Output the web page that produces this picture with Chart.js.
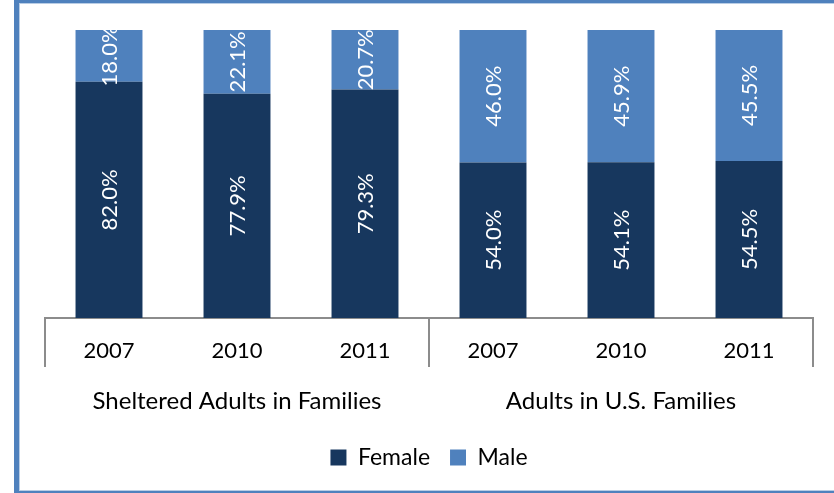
<!DOCTYPE html>
<html>
<head>
<meta charset="utf-8">
<script src="https://cdn.jsdelivr.net/npm/chart.js@4/dist/chart.umd.min.js"></script>
<style>
  html, body { margin: 0; padding: 0; background: #fff; }
  #wrap { position: relative; width: 834px; height: 493px; overflow: hidden; }
  #c { position: absolute; left: 0; top: 0; }
  #frame { position: absolute; left: 14px; top: 0; width: 900px; height: 493px;
    border-left: 5px solid #4F81BD; border-top: 3px solid #4F81BD; border-bottom: 2px solid #4F81BD;
    box-sizing: border-box; pointer-events: none; }
  #frame2 { position: absolute; left: 19px; top: 3px; width: 900px; height: 488px;
    border-left: 1px solid #B9CDE5; border-top: 1px solid #B9CDE5; border-bottom: 1px solid #B9CDE5;
    box-sizing: border-box; pointer-events: none; }
</style>
</head>
<body>
<div id="wrap">
  <canvas id="c" width="834" height="493"></canvas>
  <div id="frame"></div>
  <div id="frame2"></div>
</div>
<script>
const years = ['2007', '2010', '2011', '2007', '2010', '2011'];
const groups = ['Sheltered Adults in Families', 'Adults in U.S. Families'];
const female = [82.0, 77.9, 79.3, 54.0, 54.1, 54.5];
const male = [18.0, 22.1, 20.7, 46.0, 45.9, 45.5];
const seriesNames = ['Female', 'Male'];

const FONT = 'Lato, "Noto Sans", sans-serif';

const labelPlugin = {
  id: 'barLabels',
  afterDatasetsDraw(chart) {
    const ctx = chart.ctx;
    chart.data.datasets.forEach((ds, di) => {
      const meta = chart.getDatasetMeta(di);
      meta.data.forEach((bar, i) => {
        const v = ds.data[i];
        const yc = (bar.y + bar.base) / 2;
        ctx.save();
        ctx.translate(bar.x, yc);
        ctx.rotate(-Math.PI / 2);
        ctx.fillStyle = '#ffffff';
        ctx.font = '22px ' + FONT;
        ctx.textAlign = 'center';
        ctx.textBaseline = 'middle';
        ctx.fillText(v.toFixed(1) + '%', 0, 1);
        ctx.restore();
      });
    });
  }
};

new Chart(document.getElementById('c'), {
  type: 'bar',
  data: {
    labels: years,
    datasets: [
      { label: seriesNames[0], data: female, backgroundColor: '#17375E', borderWidth: 0 },
      { label: seriesNames[1], data: male, backgroundColor: '#4F81BD', borderWidth: 0 }
    ]
  },
  options: {
    responsive: false,
    animation: false,
    devicePixelRatio: 1,
    layout: { padding: { left: 45, right: 21, top: 30, bottom: 14 } },
    datasets: { bar: { categoryPercentage: 1, barPercentage: 0.523 } },
    plugins: {
      tooltip: { enabled: false },
      legend: {
        position: 'bottom',
        labels: {
          font: { family: FONT, size: 23 },
          color: '#000',
          boxWidth: 16,
          boxHeight: 16,
          padding: 20
        }
      }
    },
    scales: {
      x: {
        stacked: true,
        offset: true,
        grid: {
          display: true,
          offset: true,
          drawOnChartArea: false,
          drawTicks: true,
          tickLength: 49,
          lineWidth: 2,
          color: (c) => (c.type === 'scale' || c.index === 0 || c.index === 3) ? '#8C8C8C' : 'rgba(0,0,0,0)'
        },
        border: { display: true, color: '#8C8C8C', width: 2 },
        ticks: { font: { family: FONT, size: 22 }, color: '#000', padding: -29, maxRotation: 0, autoSkip: false },
        afterFit: (s) => { s.height = 49; }
      },
      x2: {
        type: 'category',
        labels: groups,
        position: 'bottom',
        offset: true,
        grid: { display: false },
        border: { display: false },
        ticks: { font: { family: FONT, size: 24 }, color: '#000', padding: 12, maxRotation: 0, autoSkip: false },
        afterFit: (s) => { s.height = 59; }
      },
      y: {
        stacked: true,
        min: 0,
        max: 100,
        display: false
      }
    }
  },
  plugins: [labelPlugin]
});
</script>
</body>
</html>
